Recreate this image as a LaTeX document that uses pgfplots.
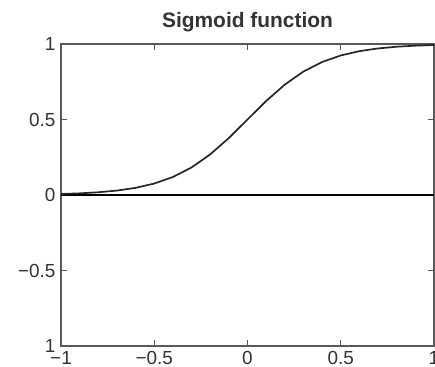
\documentclass[border=0pt]{standalone}
\usepackage{fontspec}
\setmainfont{Liberation Sans}
\usepackage{pgfplots}
\pgfplotsset{compat=1.18}
\begin{document}
\begin{tikzpicture}
\begin{axis}[
 name=ax,
 width=373bp, height=302bp, scale only axis,
 xmin=-1, xmax=1, ymin=-1, ymax=1,
 xtick={-1,-0.5,0,0.5,1}, xticklabels={−1,−0.5,0,0.5,1},
 ytick={-1,-0.5,0,0.5,1}, yticklabels={1,−0.5,0,0.5,1},
 tick align=inside, major tick length=6bp,
 axis line style={line width=1.4bp, color=black!65},
 tick style={line width=1.1bp, color=black!65},
 ticklabel style={font=\fontsize{19}{22}\selectfont, text=black!80},
 xticklabel style={anchor=base, yshift=-18bp},
 yticklabel style={anchor=east, xshift=-2bp},
 title={Sigmoid function},
 title style={font=\fontsize{21}{24}\selectfont\bfseries, text=black!80, at={(0.5,1)}, anchor=base, yshift=11bp},
]
\addplot[black, line width=1.2bp] coordinates {(-1,0) (1,0)};
\addplot[black!85, line width=1.7bp] table {
x y
-1.0 0.0067
-0.9 0.0110
-0.8 0.0180
-0.7 0.0293
-0.6 0.0474
-0.5 0.0759
-0.4 0.1192
-0.3 0.1824
-0.2 0.2689
-0.1 0.3775
0.0 0.5000
0.1 0.6225
0.2 0.7311
0.3 0.8176
0.4 0.8808
0.5 0.9241
0.6 0.9526
0.7 0.9707
0.8 0.9820
0.9 0.9890
1.0 0.9933
};
\end{axis}
\pgfresetboundingbox
\path (ax.south west) ++(-61bp,-21bp) coordinate (bl);
\path (ax.north east) ++(1bp,44bp) coordinate (tr);
\path (bl) rectangle (tr);
\end{tikzpicture}
\end{document}
